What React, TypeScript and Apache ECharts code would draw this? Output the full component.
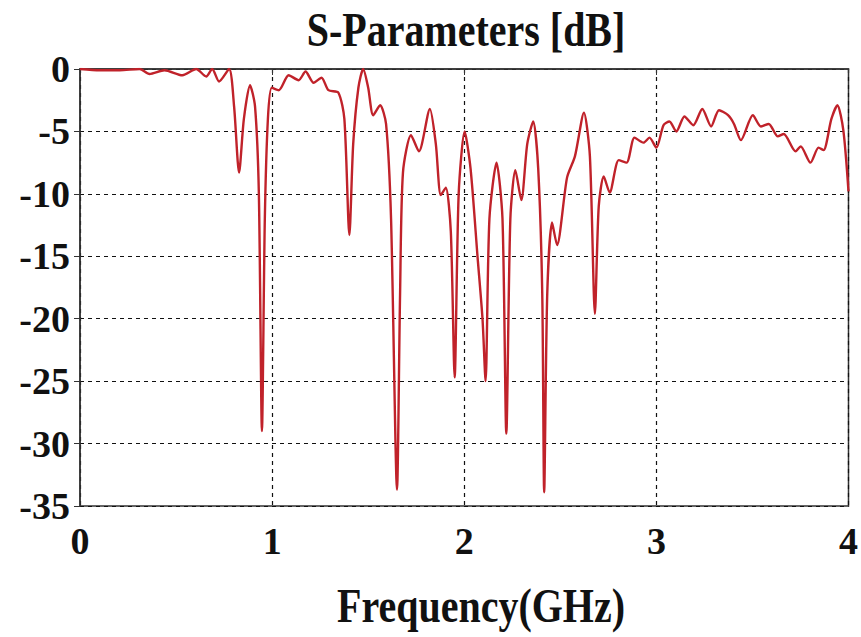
import React, { useEffect, useRef } from "react";
import * as echarts from "echarts";

const freqGHz = [
  0.0, 0.103, 0.207, 0.31, 0.362, 0.44, 0.533, 0.605, 0.657, 0.688, 0.724, 0.776,
  0.802, 0.828, 0.853, 0.885, 0.911, 0.931, 0.947, 0.962, 0.978, 0.998,
  1.035, 1.086, 1.138, 1.174, 1.216, 1.257, 1.293, 1.345, 1.376, 1.402, 1.422,
  1.449, 1.474, 1.5, 1.526, 1.562, 1.593, 1.619, 1.65, 1.666, 1.681, 1.723,
  1.764, 1.821, 1.852, 1.878, 1.904, 1.93, 1.95, 1.971, 2.002, 2.033, 2.069,
  2.095, 2.111, 2.131, 2.168, 2.199, 2.219, 2.24, 2.266, 2.297, 2.328, 2.359,
  2.385, 2.406, 2.416, 2.432, 2.457, 2.483, 2.535, 2.576, 2.623, 2.654, 2.68,
  2.7, 2.726, 2.757, 2.804, 2.845, 2.886, 2.933, 2.964, 3.0, 3.037, 3.068,
  3.104, 3.146, 3.192, 3.239, 3.285, 3.326, 3.373, 3.404, 3.44, 3.502, 3.544,
  3.585, 3.632, 3.663, 3.725, 3.751, 3.802, 3.844, 3.87, 3.911, 3.942, 3.973, 4.0,
];

const sParamDb = [
  0.0, -0.1, -0.1, 0.0, -0.4, -0.1, -0.5, 0.0, -0.6, 0.0, -1.0, 0.0,
  -3.0, -8.3, -4.0, -1.3, -3.0, -10.0, -29.0, -12.0, -4.0, -1.5,
  -1.7, -0.5, -0.9, -0.2, -1.1, -0.7, -1.7, -1.9, -4.0, -13.3, -6.0,
  -1.5, 0.0, -1.5, -3.7, -2.9, -4.4, -12.0, -33.7, -18.0, -8.3, -5.3,
  -6.6, -3.2, -6.0, -10.1, -9.5, -13.0, -24.7, -10.0, -5.0, -8.0, -15.0,
  -20.0, -25.0, -12.0, -7.5, -12.0, -29.2, -12.0, -8.1, -10.5, -6.0, -4.2,
  -8.0, -18.0, -33.9, -18.0, -12.3, -14.1, -8.7, -7.0, -3.5, -7.0, -19.6,
  -11.0, -8.6, -9.9, -7.3, -7.5, -5.5, -5.9, -5.5, -6.3, -4.5, -4.2,
  -5.0, -3.8, -4.5, -3.2, -4.6, -3.3, -3.7, -4.4, -5.7, -3.7, -4.6,
  -4.4, -5.4, -5.2, -6.6, -6.2, -7.5, -6.3, -6.5, -4.0, -2.9, -4.9, -9.8,
];

const titleText = "S-Parameters [dB]";
const xAxisName = "Frequency(GHz)";

export default function App() {
  const ref = useRef<HTMLDivElement>(null);
  useEffect(() => {
    if (!ref.current) return;
    const chart = echarts.init(ref.current, null, { renderer: "svg" });
    const font = "Liberation Serif";
    chart.setOption({
      animation: false,
      backgroundColor: "#ffffff",
      grid: {
        left: 80,
        right: 8,
        top: 69,
        bottom: 131,
        show: true,
        borderColor: "#333",
        borderWidth: 1.5,
      },
      graphic: [
        {
          type: "text",
          x: 466,
          y: 30,
          scaleY: 1.2,
          style: {
            text: titleText,
            font: `bold 40px "${font}"`,
            fill: "#111",
            textAlign: "center",
            textVerticalAlign: "middle",
          },
        },
        {
          type: "text",
          x: 481,
          y: 606,
          scaleY: 1.2,
          style: {
            text: xAxisName,
            font: `bold 40px "${font}"`,
            fill: "#111",
            textAlign: "center",
            textVerticalAlign: "middle",
          },
        },
      ],
      xAxis: {
        type: "value",
        min: 0,
        max: 4,
        interval: 1,
        axisLine: { show: true, lineStyle: { color: "#333", width: 1.5 } },
        axisTick: { show: true, length: 6, lineStyle: { color: "#333" } },
        axisLabel: { fontFamily: font, fontWeight: "bold", fontSize: 38, color: "#111", margin: 16 },
        splitLine: { show: true, lineStyle: { color: "#111", type: [4, 4], width: 1.2 } },
      },
      yAxis: {
        type: "value",
        min: -35,
        max: 0,
        interval: 5,
        axisLine: { show: true, lineStyle: { color: "#333", width: 1.5 } },
        axisTick: { show: true, length: 6, lineStyle: { color: "#333" } },
        axisLabel: { fontFamily: font, fontWeight: "bold", fontSize: 38, color: "#111", margin: 10 },
        splitLine: { show: true, lineStyle: { color: "#111", type: [4, 4], width: 1.2 } },
      },
      series: [
        {
          type: "line",
          data: freqGHz.map((f, i) => [f, sParamDb[i]]),
          showSymbol: false,
          smooth: 0.25,
          lineStyle: { color: "#c0222a", width: 2.4 },
          z: 5,
        },
      ],
    });
    return () => chart.dispose();
  }, []);
  return (
    <div
      ref={ref}
      style={{ position: "fixed", left: 0, top: 0, width: 861, height: 637 }}
    />
  );
}
